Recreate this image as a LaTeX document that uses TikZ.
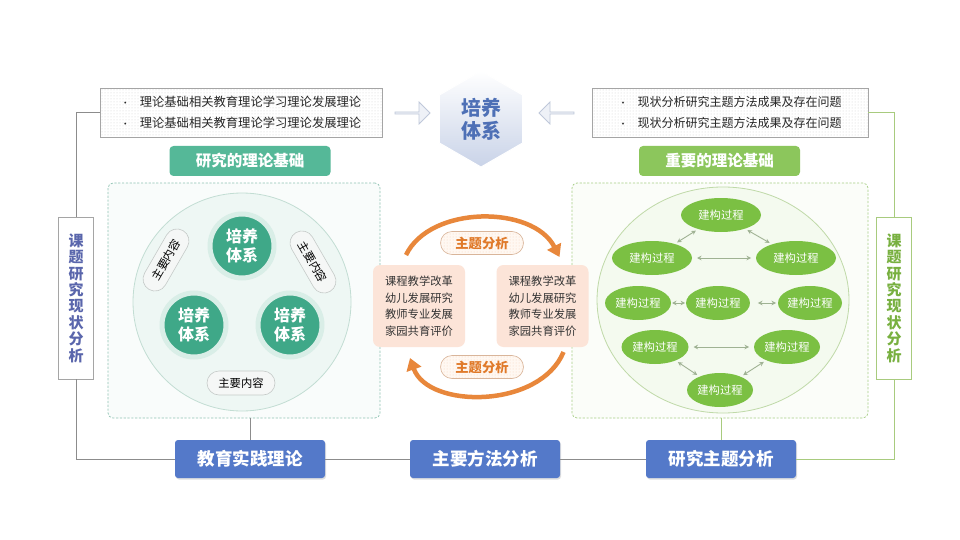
\documentclass[tikz,border=0pt]{standalone}
\usepackage{fontspec}
\setmainfont{Noto Sans CJK SC}
\usetikzlibrary{shapes.geometric,shapes.arrows,patterns,shadows,calc,arrows.meta}
\definecolor{tealL}{HTML}{55B898}
\definecolor{tealC}{HTML}{3FA888}
\definecolor{tealH}{HTML}{D9EEE7}
\definecolor{lcircF}{HTML}{EEF7F4}
\definecolor{lcircD}{HTML}{C2DDD3}
\definecolor{ldash}{HTML}{8FC3B3}
\definecolor{greenL}{HTML}{8CC65C}
\definecolor{greenE}{HTML}{7BC043}
\definecolor{rcircF}{HTML}{F4FAEF}
\definecolor{rcircD}{HTML}{BFD9A8}
\definecolor{rdash}{HTML}{A6CE85}
\definecolor{blueB}{HTML}{5479C9}
\definecolor{hexT}{HTML}{4E70B6}
\definecolor{vtL}{HTML}{5A66AC}
\definecolor{vtR}{HTML}{78B040}
\definecolor{pinkB}{HTML}{FCE4D8}
\definecolor{orangeA}{HTML}{E8873B}
\definecolor{orangeT}{HTML}{E07A2A}
\definecolor{lineG}{HTML}{8C8C8C}
\definecolor{lineGr}{HTML}{A8CB7E}
\definecolor{arrowG}{HTML}{9FB293}
\definecolor{boxG}{HTML}{A5A5A5}
\definecolor{pillD}{HTML}{C5CAC8}
\definecolor{pillF}{HTML}{F5F7F6}
\definecolor{thD}{HTML}{D9B59A}
\definecolor{thF}{HTML}{FFF8F2}
\definecolor{hexB}{HTML}{C9D3E8}
\definecolor{arrD}{HTML}{BFC8DA}
\definecolor{arrF}{HTML}{EEF1F7}
\begin{document}
\begin{tikzpicture}[x=1pt,y=-1pt, every node/.style={inner sep=0pt, outer sep=0pt}]
\useasboundingbox[fill=white] (0,0) rectangle (960,540);
\tikzset{
 topbox/.style={draw=boxG, line width=0.6pt, preaction={fill=white}, pattern=dots, pattern color=black!18, minimum height=49, align=left, font=\fontsize{12.3}{21}\selectfont, text=black!85},
 toplab/.style={rounded corners=4pt, minimum width=161, minimum height=30, text=white, font=\bfseries\fontsize{15.5}{17}\selectfont},
 dbox/.style={dashed, dash pattern=on 2.2pt off 1.6pt, rounded corners=5pt, line width=0.7pt, minimum height=235},
 tcirc/.style={circle, fill=tealC, draw=tealH, line width=5pt, minimum size=64, text=white, align=center, font=\bfseries\fontsize{16}{18.5}\selectfont},
 pill/.style={draw=pillD, fill=pillF, rounded corners=12pt, minimum width=68, minimum height=24, font=\fontsize{11.3}{12}\selectfont, line width=0.6pt},
 vbox/.style={fill=white, line width=0.7pt, minimum width=35, minimum height=162, align=center, font=\bfseries\fontsize{15}{16.4}\selectfont},
 pinkbox/.style={fill=pinkB, rounded corners=7pt, minimum width=92, minimum height=82, align=center, font=\fontsize{11.3}{16.6}\selectfont, text=black!80},
 thpill/.style={draw=thD, line width=0.6pt, preaction={fill=thF}, pattern=dots, pattern color=orangeA!35, rounded corners=11.5pt, minimum width=83, minimum height=23, text=orangeT, font=\bfseries\fontsize{13.3}{14}\selectfont},
 gell/.style={ellipse, fill=greenE, minimum height=34, text=white, font=\fontsize{11.3}{12}\selectfont},
 bluebox/.style={fill=blueB, rounded corners=3pt, minimum width=150, minimum height=38, text=white, font=\bfseries\fontsize{17.5}{19}\selectfont, drop shadow={opacity=0.25, shadow xshift=1pt, shadow yshift=-1.5pt}},
 dbl/.style={{Stealth[length=4.5pt,width=4.5pt]}-{Stealth[length=4.5pt,width=4.5pt]}, draw=arrowG, line width=0.9pt, shorten >=3pt, shorten <=3pt},
 orarc/.style={draw=orangeA, line width=4.5pt, -{Triangle[length=12pt,width=15pt]}},
 hexarrow/.style={single arrow, draw=arrD, fill=arrF, line width=0.8pt, minimum height=35, minimum width=22, single arrow head extend=4pt}
}

% top boxes
\node[topbox, minimum width=282] (tl) at (241,112.5) {{\fontsize{9}{9}\selectfont •}\hspace{10pt}理论基础相关教育理论学习理论发展理论\\{\fontsize{9}{9}\selectfont •}\hspace{10pt}理论基础相关教育理论学习理论发展理论};
\node[topbox, minimum width=276, font=\fontsize{12}{21}\selectfont] (tr) at (730,112.5) {{\fontsize{9}{9}\selectfont •}\hspace{10pt}现状分析研究主题方法成果及存在问题\\{\fontsize{9}{9}\selectfont •}\hspace{10pt}现状分析研究主题方法成果及存在问题};

% hexagon
\coordinate (hc) at (481,119);
\shade[top color=white, bottom color=hexB, draw=white, line width=1pt]
 ($(hc)+(90:48)$) -- ($(hc)+(30:48)$) -- ($(hc)+(-30:48)$) -- ($(hc)+(-90:48)$) -- ($(hc)+(-150:48)$) -- ($(hc)+(150:48)$) -- cycle;
\node[text=hexT, align=center, font=\bfseries\fontsize{20}{23}\selectfont] (hex) at (hc) {培养\\体系};
\node[hexarrow] (arL) at (412,113) {};
\node[hexarrow, shape border rotate=180] (arR) at (557,113) {};

% labels
\node[toplab, fill=tealL] (lt) at (250,161) {研究的理论基础};
\node[toplab, fill=greenL] (lg) at (719.5,161) {重要的理论基础};

% dashed boxes
\node[dbox, draw=ldash, fill=tealC!3, minimum width=272] (lbox) at (244,300.5) {};
\node[dbox, draw=rdash, fill=greenE!3, minimum width=296] (rbox) at (720,300.5) {};

% left circle group
\node[circle, fill=lcircF, draw=lcircD, line width=0.8pt, minimum size=218] (lcirc) at (242,302) {};
\node[tcirc] (c1) at (242,246) {培养\\体系};
\node[tcirc] (c2) at (194,325) {培养\\体系};
\node[tcirc] (c3) at (290,325) {培养\\体系};
\node[pill, rotate=60] (p1) at (166,260) {主要内容};
\node[pill, rotate=-60] (p2) at (313,262) {主要内容};
\node[pill] (p3) at (241,383) {主要内容};

% middle
\node[pinkbox] (pkL) at (419,306) {课程教学改革\\幼儿发展研究\\教师专业发展\\家园共育评价};
\node[pinkbox] (pkR) at (542.5,306) {课程教学改革\\幼儿发展研究\\教师专业发展\\家园共育评价};
\draw[orarc] ($(pkL.north)+(-13,-10)$) .. controls (430,205) and (533,205) .. ($(pkR.north)+(17,-8)$);
\draw[orarc] ($(pkR.south)+(21,5)$) .. controls (540,409) and (428,409) .. ($(pkL.south)+(-9,11)$);
\node[thpill] (th1) at (482,243) {主题分析};
\node[thpill] (th2) at (482,367) {主题分析};

% right circle group
\node[ellipse, fill=rcircF, draw=rcircD, line width=0.8pt, minimum width=252, minimum height=226] (rcirc) at (723,300) {};
\node[gell, minimum width=80, minimum height=34] (g1) at (721,215) {建构过程};
\node[gell, minimum width=80] (g2) at (652,258) {建构过程};
\node[gell, minimum width=80] (g3) at (796,258) {建构过程};
\node[gell, minimum width=66] (g4) at (638,303) {建构过程};
\node[gell, minimum width=62] (g5) at (718,303) {建构过程};
\node[gell, minimum width=64] (g6) at (810,303) {建构过程};
\node[gell, minimum width=67] (g7) at (655,347) {建构过程};
\node[gell, minimum width=66] (g8) at (787,347) {建构过程};
\node[gell, minimum width=66] (g9) at (720,390) {建构过程};
\draw[dbl] (g2) -- (g1);
\draw[dbl] (g1) -- (g3);
\draw[dbl, shorten >=5pt, shorten <=5pt] (g2) -- (g3);
\draw[dbl, shorten >=1pt, shorten <=1pt] (g4) -- (g5);
\draw[dbl, shorten >=2pt, shorten <=8pt] (g5) -- (g6);
\draw[dbl, shorten >=5pt, shorten <=5pt] (g7) -- (g8);
\draw[dbl] (g7) -- (g9);
\draw[dbl] (g9) -- (g8);

% side boxes
\node[vbox, draw=boxG, text=vtL] (lv) at (76,298) {课\\题\\研\\究\\现\\状\\分\\析};
\node[vbox, draw=lineGr, text=vtR] (rv) at (894,298) {课\\题\\研\\究\\现\\状\\分\\析};

% bottom boxes
\node[bluebox] (b1) at (250,459) {教育实践理论};
\node[bluebox] (b2) at (485,459) {主要方法分析};
\node[bluebox] (b3) at (721,459) {研究主题分析};

% connectors
\draw[lineG, line width=0.8pt] (tl.west) -| (lv.north);
\draw[lineG, line width=0.8pt] (lv.south) |- (b1.west);
\draw[lineGr, line width=0.8pt] (tr.east) -| (rv.north);
\draw[lineGr, line width=0.8pt] (rv.south) |- (b3.east);
\draw[lineG, line width=0.8pt] (b1.east) -- (b2.west);
\draw[lineG, line width=0.8pt] (b2.east) -- (b3.west);
\draw[lineG, line width=0.8pt] (b1.north) -- (b1.north |- lbox.south);
\draw[lineGr, line width=0.8pt] (b3.north) -- (b3.north |- rbox.south);
\end{tikzpicture}
\end{document}
